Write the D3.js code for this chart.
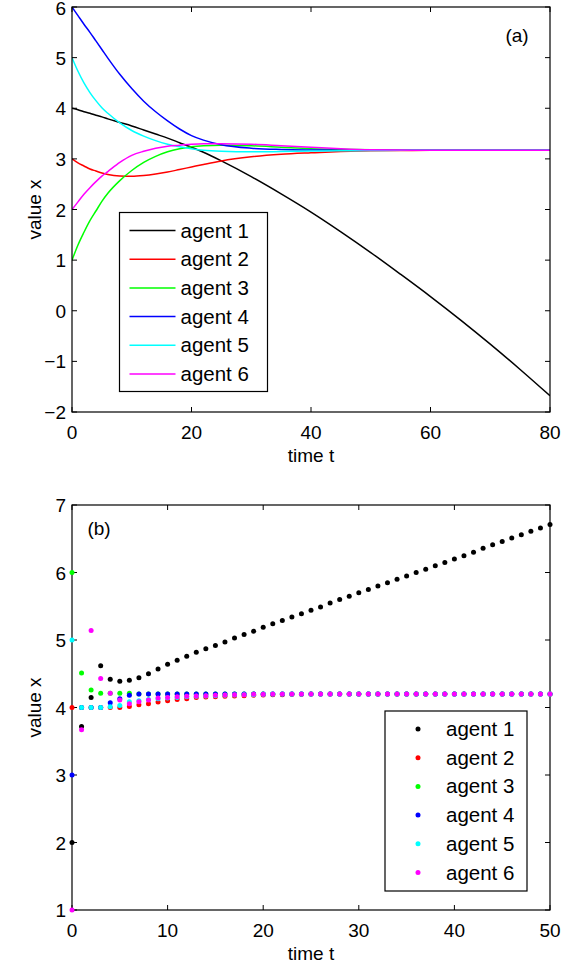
<!DOCTYPE html>
<html>
<head>
<meta charset="utf-8">
<script src="https://cdn.jsdelivr.net/npm/d3@7"></script>
<style>
    body { margin: 0; background: white; }
    text { font-family: 'Liberation Sans', Arial, sans-serif; }
</style>
</head>
<body>
<script>

const agents = ['agent 1', 'agent 2', 'agent 3', 'agent 4', 'agent 5', 'agent 6']
const colors = ['#000000', '#ff0000', '#00ff00', '#0000ff', '#00ffff', '#ff00ff']

// panel (a): continuous trajectories
const timeA = [0, 1, 2, 3, 4, 5, 6, 8, 10, 12, 14, 16, 18, 20, 22, 25, 30, 35, 40, 45, 50, 55, 60, 65, 70, 75, 80]
const a1 = [4.0, 3.97, 3.93, 3.90, 3.86, 3.83, 3.79, 3.72, 3.65, 3.57, 3.49, 3.41, 3.32, 3.23, 3.13, 2.96, 2.65, 2.31, 1.95, 1.56, 1.15, 0.72, 0.28, -0.18, -0.66, -1.16, -1.68]
const a2 = [3.0, 2.92, 2.86, 2.80, 2.76, 2.72, 2.69, 2.66, 2.655, 2.67, 2.70, 2.74, 2.79, 2.84, 2.89, 2.96, 3.04, 3.09, 3.12, 3.145, 3.16, 3.165, 3.17, 3.17, 3.17, 3.17, 3.17]
const a3 = [1.0, 1.30, 1.55, 1.78, 1.97, 2.16, 2.32, 2.57, 2.77, 2.93, 3.05, 3.14, 3.20, 3.24, 3.26, 3.27, 3.26, 3.23, 3.20, 3.19, 3.18, 3.175, 3.17, 3.17, 3.17, 3.17, 3.17]
const a4 = [6.0, 5.83, 5.66, 5.50, 5.33, 5.16, 4.99, 4.67, 4.39, 4.14, 3.93, 3.75, 3.59, 3.46, 3.37, 3.28, 3.21, 3.185, 3.175, 3.17, 3.17, 3.17, 3.17, 3.17, 3.17, 3.17, 3.17]
const a5 = [5.0, 4.73, 4.50, 4.31, 4.15, 4.01, 3.90, 3.71, 3.56, 3.45, 3.36, 3.29, 3.24, 3.20, 3.17, 3.15, 3.14, 3.145, 3.155, 3.16, 3.165, 3.17, 3.17, 3.17, 3.17, 3.17, 3.17]
const a6 = [2.0, 2.15, 2.30, 2.43, 2.55, 2.66, 2.75, 2.93, 3.07, 3.15, 3.21, 3.25, 3.27, 3.29, 3.30, 3.30, 3.29, 3.26, 3.23, 3.20, 3.18, 3.175, 3.17, 3.17, 3.17, 3.17, 3.17]

// panel (b): discrete steps t = 0..50
const timeB = d3.range(0, 51)
const b1 = [2, 3.72, 4.15, 4.62, 4.42, 4.39, 4.405, 4.44, 4.50, 4.57, 4.64, 4.70, 4.76, 4.82, 4.87, 4.92, 4.97, 5.03, 5.08, 5.13, 5.19, 5.24, 5.29, 5.34, 5.39, 5.44, 5.49, 5.55, 5.60, 5.65, 5.70, 5.75, 5.80, 5.85, 5.90, 5.95, 6.00, 6.05, 6.10, 6.15, 6.20, 6.25, 6.30, 6.36, 6.41, 6.46, 6.51, 6.56, 6.61, 6.66, 6.71]
const b2 = [4, 4, 4, 4, 4, 4.0, 4.015, 4.04, 4.055, 4.08, 4.10, 4.12, 4.13, 4.15, 4.155, 4.16, 4.165, 4.17, 4.175, 4.18, 4.185, 4.19, 4.19, 4.195, 4.195, 4.2, 4.2, 4.2, 4.2, 4.2, 4.2, 4.2, 4.2, 4.2, 4.2, 4.2, 4.2, 4.2, 4.2, 4.2, 4.2, 4.2, 4.2, 4.2, 4.2, 4.2, 4.2, 4.2, 4.2, 4.2, 4.2]
const b3 = [6, 4.51, 4.26, 4.21, 4.21, 4.21, 4.21, 4.20, 4.20, 4.2, 4.2, 4.2, 4.2, 4.2, 4.2, 4.2, 4.2, 4.2, 4.2, 4.2, 4.2, 4.2, 4.2, 4.2, 4.2, 4.2, 4.2, 4.2, 4.2, 4.2, 4.2, 4.2, 4.2, 4.2, 4.2, 4.2, 4.2, 4.2, 4.2, 4.2, 4.2, 4.2, 4.2, 4.2, 4.2, 4.2, 4.2, 4.2, 4.2, 4.2, 4.2]
const b4 = [3, 4.0, 4.0, 4.0, 4.07, 4.13, 4.18, 4.20, 4.20, 4.2, 4.2, 4.2, 4.2, 4.2, 4.2, 4.2, 4.2, 4.2, 4.2, 4.2, 4.2, 4.2, 4.2, 4.2, 4.2, 4.2, 4.2, 4.2, 4.2, 4.2, 4.2, 4.2, 4.2, 4.2, 4.2, 4.2, 4.2, 4.2, 4.2, 4.2, 4.2, 4.2, 4.2, 4.2, 4.2, 4.2, 4.2, 4.2, 4.2, 4.2, 4.2]
const b5 = [5, 4.0, 4.0, 4.0, 4.01, 4.03, 4.085, 4.10, 4.12, 4.13, 4.14, 4.15, 4.16, 4.165, 4.17, 4.175, 4.18, 4.185, 4.19, 4.19, 4.195, 4.2, 4.2, 4.2, 4.2, 4.2, 4.2, 4.2, 4.2, 4.2, 4.2, 4.2, 4.2, 4.2, 4.2, 4.2, 4.2, 4.2, 4.2, 4.2, 4.2, 4.2, 4.2, 4.2, 4.2, 4.2, 4.2, 4.2, 4.2, 4.2, 4.2]
const b6 = [1, 3.67, 5.14, 4.43, 4.21, 4.11, 4.055, 4.085, 4.11, 4.14, 4.15, 4.16, 4.165, 4.17, 4.175, 4.18, 4.185, 4.19, 4.19, 4.195, 4.195, 4.2, 4.2, 4.2, 4.2, 4.2, 4.2, 4.2, 4.2, 4.2, 4.2, 4.2, 4.2, 4.2, 4.2, 4.2, 4.2, 4.2, 4.2, 4.2, 4.2, 4.2, 4.2, 4.2, 4.2, 4.2, 4.2, 4.2, 4.2, 4.2, 4.2]

const xTicksA = [0, 20, 40, 60, 80]
const yTicksA = [-2, -1, 0, 1, 2, 3, 4, 5, 6]
const xTicksB = [0, 10, 20, 30, 40, 50]
const yTicksB = [1, 2, 3, 4, 5, 6, 7]

const fontSize = 19
const left = 72, right = 550

const svg = d3.select('body').append('svg')
    .attr('width', 574)
    .attr('height', 964)

function fmt(v){
    return v < 0 ? '\u2212' + Math.abs(v) : String(v)
}

function drawFrame(g, x, y, xTicks, yTicks, top, bottom){

    const tick = 5

    g.append('rect')
        .attr('x', left).attr('y', top)
        .attr('width', right - left).attr('height', bottom - top)
        .attr('fill', 'none').attr('stroke', '#000').attr('stroke-width', 1.2)

    const ticks = g.append('g').attr('stroke', '#000').attr('stroke-width', 1)
    xTicks.forEach(v => {
        ticks.append('line').attr('x1', x(v)).attr('x2', x(v)).attr('y1', bottom).attr('y2', bottom - tick)
        ticks.append('line').attr('x1', x(v)).attr('x2', x(v)).attr('y1', top).attr('y2', top + tick)
    })
    yTicks.forEach(v => {
        ticks.append('line').attr('y1', y(v)).attr('y2', y(v)).attr('x1', left).attr('x2', left + tick)
        ticks.append('line').attr('y1', y(v)).attr('y2', y(v)).attr('x1', right).attr('x2', right - tick)
    })

    g.selectAll('.xl').data(xTicks).join('text')
        .attr('x', d => x(d)).attr('y', bottom + 27)
        .attr('text-anchor', 'middle')
        .style('font-size', fontSize + 'px')
        .text(fmt)

    g.selectAll('.yl').data(yTicks).join('text')
        .attr('x', left - 6).attr('y', d => Math.max(y(d) + 7, 15))
        .attr('text-anchor', 'end')
        .style('font-size', fontSize + 'px')
        .text(fmt)

    g.append('text')
        .attr('x', (left + right) / 2).attr('y', bottom + 50)
        .attr('text-anchor', 'middle')
        .style('font-size', fontSize + 'px')
        .text('time t')

    g.append('text')
        .attr('transform', 'translate(41,' + ((top + bottom) / 2) + ') rotate(-90)')
        .attr('text-anchor', 'middle')
        .style('font-size', fontSize + 'px')
        .text('value x')
}

function drawLegend(g, x0, y0, w, h, marker){

    g.append('rect')
        .attr('x', x0).attr('y', y0).attr('width', w).attr('height', h)
        .attr('fill', 'white').attr('stroke', '#000').attr('stroke-width', 1.2)

    const rows = g.selectAll('.row').data(agents).join('g')
        .attr('transform', (d, i) => 'translate(' + x0 + ',' + (y0 + 18 + i * 28.7) + ')')

    marker(rows)

    rows.append('text')
        .attr('x', 61).attr('y', 7)
        .style('font-size', '20.5px')
        .text(d => d)
}

// ---- panel (a)
const topA = 7, bottomA = 412
const xA = d3.scaleLinear().domain([0, 80]).range([left, right])
const yA = d3.scaleLinear().domain([-2, 6]).range([bottomA, topA])

const gA = svg.append('g')
svg.append('clipPath').attr('id', 'clipA').append('rect')
    .attr('x', left).attr('y', topA).attr('width', right - left).attr('height', bottomA - topA)

const seriesA = [a1, a2, a3, a4, a5, a6]
const line = d3.line()
    .x((d, i) => xA(timeA[i]))
    .y(d => yA(d))
    .curve(d3.curveMonotoneX)

gA.append('g').attr('clip-path', 'url(#clipA)')
    .selectAll('path').data(seriesA).join('path')
    .attr('d', line)
    .attr('fill', 'none')
    .attr('stroke', (d, i) => colors[i])
    .attr('stroke-width', 1.5)

drawFrame(gA, xA, yA, xTicksA, yTicksA, topA, bottomA)

gA.append('text')
    .attr('x', 517).attr('y', 42)
    .attr('text-anchor', 'middle')
    .style('font-size', fontSize + 'px')
    .text('(a)')

drawLegend(gA, 119.5, 212.5, 148, 179, rows => {
    rows.append('line')
        .attr('x1', 10).attr('x2', 56).attr('y1', 0).attr('y2', 0)
        .attr('stroke', (d, i) => colors[i])
        .attr('stroke-width', 1.5)
})

// ---- panel (b)
const topB = 505, bottomB = 910
const xB = d3.scaleLinear().domain([0, 50]).range([left, right])
const yB = d3.scaleLinear().domain([1, 7]).range([bottomB, topB])

const gB = svg.append('g')
const seriesB = [b1, b2, b3, b4, b5, b6]

drawFrame(gB, xB, yB, xTicksB, yTicksB, topB, bottomB)

gB.append('g')
    .selectAll('g').data(seriesB).join('g')
    .attr('fill', (d, i) => colors[i])
    .selectAll('circle').data(d => d).join('circle')
    .attr('cx', (d, i) => xB(timeB[i]))
    .attr('cy', d => yB(d))
    .attr('r', 2.5)

gB.append('text')
    .attr('x', 99).attr('y', 535)
    .attr('text-anchor', 'middle')
    .style('font-size', fontSize + 'px')
    .text('(b)')

drawLegend(gB, 385, 711, 142, 180, rows => {
    rows.append('circle')
        .attr('cx', 33).attr('cy', 0).attr('r', 2.5)
        .attr('fill', (d, i) => colors[i])
})

</script>
</body>
</html>
